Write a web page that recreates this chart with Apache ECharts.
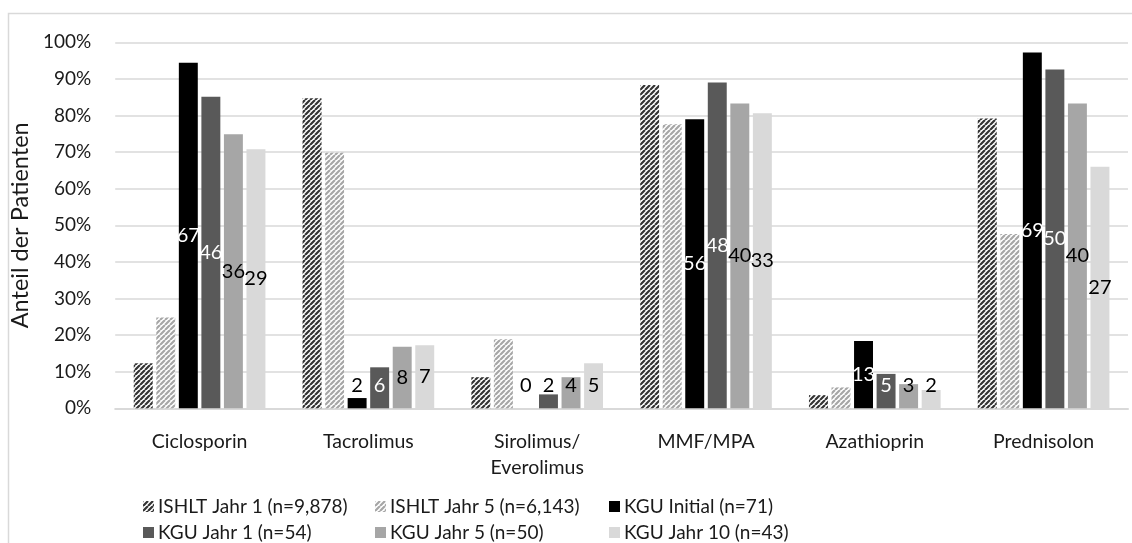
<!DOCTYPE html>
<html>
<head>
<meta charset="utf-8">
<script src="https://cdn.jsdelivr.net/npm/echarts@6/dist/echarts.min.js"></script>
<style>
html,body{margin:0;padding:0;background:#fff;}
#chart{width:1132px;height:543px;}
</style>
</head>
<body>
<div id="chart"></div>
<script>
// ---- data ----
const categories = ['Ciclosporin', 'Tacrolimus', 'Sirolimus/\nEverolimus', 'MMF/MPA', 'Azathioprin', 'Prednisolon'];
const seriesNames = ['ISHLT Jahr 1 (n=9,878)', 'ISHLT Jahr 5 (n=6,143)', 'KGU Initial (n=71)', 'KGU Jahr 1 (n=54)', 'KGU Jahr 5 (n=50)', 'KGU Jahr 10 (n=43)'];
const ishltJahr1 = [12.3, 84.7, 8.5, 88.3, 3.6, 79.2];
const ishltJahr5 = [24.8, 69.8, 18.9, 77.6, 5.7, 47.6];
const kguInitial = [94.4, 2.8, 0, 79.0, 18.4, 97.2];
const kguJahr1 = [85.1, 11.2, 3.8, 89.0, 9.4, 92.6];
const kguJahr5 = [74.9, 16.8, 8.5, 83.3, 6.6, 83.3];
const kguJahr10 = [70.8, 17.2, 12.3, 80.6, 5.0, 66.0];
const nInitial = [67, 2, 0, 56, 13, 69];
const nJahr1 = [46, 6, 2, 48, 5, 50];
const nJahr5 = [36, 8, 4, 40, 3, 40];
const nJahr10 = [29, 7, 5, 33, 2, 27];
const yTicks = [0, 10, 20, 30, 40, 50, 60, 70, 80, 90, 100];

// ---- styles ----
const FONT = 'Lato, "Noto Sans", sans-serif';
function stripe(color) {
  const s = 5;
  const c = document.createElement('canvas');
  c.width = s; c.height = s;
  const g = c.getContext('2d');
  g.fillStyle = '#ffffff';
  g.fillRect(0, 0, s, s);
  g.strokeStyle = color;
  g.lineWidth = 2.2;
  g.beginPath();
  for (let i = -s; i <= s; i += s) {
    g.moveTo(i, s); g.lineTo(i + s, 0);
  }
  g.stroke();
  return { image: c, repeat: 'repeat' };
}
const solid = ['#000000', '#595959', '#a6a6a6', '#d9d9d9'];
const insideColor = ['#ffffff', '#ffffff', '#000000', '#000000'];

// label placement rule (Excel-like): centered, but never lower than near the base
const yPerPct = 3.66;
function labeled(values, counts, idx) {
  return values.map((v, i) => {
    const h = v * yPerPct;
    const item = { value: v, label: { formatter: String(counts[i]) } };
    if (h / 2 < 25) {
      item.label.position = 'insideBottom';
      item.label.distance = 13;
      item.label.color = (h > 30) ? insideColor[idx] : '#000000';
    } else {
      item.label.position = 'inside';
      item.label.color = insideColor[idx];
    }
    return item;
  });
}

const kguData = [
  labeled(kguInitial, nInitial, 0),
  labeled(kguJahr1, nJahr1, 1),
  labeled(kguJahr5, nJahr5, 2),
  labeled(kguJahr10, nJahr10, 3)
];

const common = { type: 'bar', barGap: '19%', barCategoryGap: '22%' };
const series = [
  Object.assign({}, common, { name: seriesNames[0], data: ishltJahr1, itemStyle: { color: stripe('#333333') } }),
  Object.assign({}, common, { name: seriesNames[1], data: ishltJahr5, itemStyle: { color: stripe('#a6a6a6') } })
];
for (let k = 0; k < 4; k++) {
  series.push(Object.assign({}, common, {
    name: seriesNames[k + 2],
    data: kguData[k],
    itemStyle: { color: solid[k] },
    label: { show: true, fontSize: 20, fontFamily: FONT }
  }));
}

const legendPos = [[138, 492], [370, 492], [604, 492], [138, 518], [370, 518], [604, 518]];
const legends = seriesNames.map((n, i) => ({
  data: [n],
  left: legendPos[i][0], top: legendPos[i][1],
  icon: 'rect', itemWidth: 11, itemHeight: 11, itemGap: 4,
  selectedMode: false,
  textStyle: { fontSize: 19, fontFamily: FONT, color: '#1a1a1a', padding: [0, 0, 0, -1] }
}));

const chart = echarts.init(document.getElementById('chart'), null, { renderer: 'canvas' });
chart.setOption({
  animation: false,
  backgroundColor: '#ffffff',
  graphic: [{
    type: 'rect', silent: true,
    shape: { x: 8.5, y: 13.5, width: 1140, height: 560 },
    style: { fill: 'none', stroke: '#d9d9d9', lineWidth: 1.5 }
  }],
  grid: { left: 110, right: 4, top: 42.3, bottom: 134.7 },
  legend: legends,
  xAxis: {
    type: 'category',
    data: categories,
    axisTick: { show: false },
    axisLine: { lineStyle: { color: '#d9d9d9', width: 2 } },
    axisLabel: { fontSize: 19.5, fontFamily: FONT, color: '#1a1a1a', margin: 20, lineHeight: 26, interval: 0 }
  },
  yAxis: {
    type: 'value', min: 0, max: 100, interval: 10,
    name: 'Anteil der Patienten',
    nameLocation: 'middle', nameGap: 50, nameRotate: 90,
    nameTextStyle: { fontSize: 23.5, fontFamily: FONT, color: '#1a1a1a' },
    axisLine: { show: false }, axisTick: { show: false },
    axisLabel: { fontSize: 19, fontFamily: FONT, color: '#1a1a1a', margin: 24, formatter: v => yTicks.includes(v) ? v + '%' : '' },
    splitLine: { lineStyle: { color: '#d9d9d9', width: 1.5 } }
  },
  series: series
});
</script>
</body>
</html>
